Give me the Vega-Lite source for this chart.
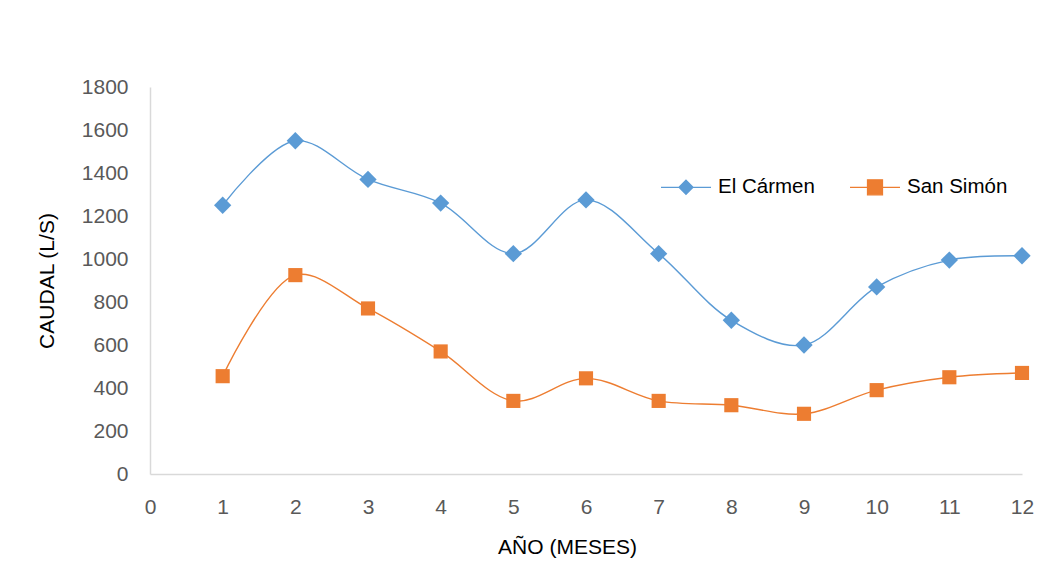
{
  "$schema": "https://vega.github.io/schema/vega-lite/v6.json",
  "width": 872,
  "height": 387,
  "autosize": {"type": "none"},
  "padding": {"left": 150, "top": 87, "right": 27, "bottom": 97},
  "background": "white",
  "config": {
    "view": {"stroke": null},
    "font": "Liberation Sans",
    "axis": {
      "grid": false,
      "ticks": false,
      "domainColor": "#D9D9D9",
      "domainWidth": 1.5,
      "labelFont": "Liberation Sans",
      "labelFontSize": 21,
      "labelColor": "#595959",
      "labelFlush": false,
      "labelBound": false,
      "titleFont": "Liberation Sans",
      "titleFontSize": 21,
      "titleFontWeight": "normal",
      "titleColor": "#000000"
    }
  },
  "data": {
    "values": [
      {"mes": 1, "serie": "El Cármen", "caudal": 1250},
      {"mes": 2, "serie": "El Cármen", "caudal": 1550},
      {"mes": 3, "serie": "El Cármen", "caudal": 1370},
      {"mes": 4, "serie": "El Cármen", "caudal": 1260},
      {"mes": 5, "serie": "El Cármen", "caudal": 1025},
      {"mes": 6, "serie": "El Cármen", "caudal": 1275},
      {"mes": 7, "serie": "El Cármen", "caudal": 1025},
      {"mes": 8, "serie": "El Cármen", "caudal": 715},
      {"mes": 9, "serie": "El Cármen", "caudal": 600},
      {"mes": 10, "serie": "El Cármen", "caudal": 870},
      {"mes": 11, "serie": "El Cármen", "caudal": 995},
      {"mes": 12, "serie": "El Cármen", "caudal": 1015},
      {"mes": 1, "serie": "San Simón", "caudal": 455},
      {"mes": 2, "serie": "San Simón", "caudal": 925},
      {"mes": 3, "serie": "San Simón", "caudal": 770},
      {"mes": 4, "serie": "San Simón", "caudal": 570},
      {"mes": 5, "serie": "San Simón", "caudal": 340},
      {"mes": 6, "serie": "San Simón", "caudal": 445},
      {"mes": 7, "serie": "San Simón", "caudal": 340},
      {"mes": 8, "serie": "San Simón", "caudal": 320},
      {"mes": 9, "serie": "San Simón", "caudal": 280},
      {"mes": 10, "serie": "San Simón", "caudal": 390},
      {"mes": 11, "serie": "San Simón", "caudal": 450},
      {"mes": 12, "serie": "San Simón", "caudal": 470}
    ]
  },
  "encoding": {
    "x": {
      "field": "mes", "type": "quantitative",
      "scale": {"domain": [0, 12], "nice": false},
      "axis": {"values": [0,1,2,3,4,5,6,7,8,9,10,11,12], "title": "AÑO (MESES)", "labelPadding": 22, "titlePadding": 19, "titleX": 417}
    },
    "y": {
      "field": "caudal", "type": "quantitative",
      "scale": {"domain": [0, 1800], "nice": false},
      "axis": {"values": [0,200,400,600,800,1000,1200,1400,1600,1800], "format": "d", "title": "CAUDAL (L/S)", "labelPadding": 22, "titlePadding": 24}
    },
    "color": {
      "field": "serie", "type": "nominal",
      "scale": {"domain": ["El Cármen", "San Simón"], "range": ["#5B9BD5", "#ED7D31"]},
      "legend": {
        "title": null,
        "orient": "none",
        "legendX": 510,
        "legendY": 74,
        "direction": "horizontal",
        "padding": 0,
        "columnPadding": 32,
        "symbolSize": 2500,
        "symbolStrokeWidth": 1.25,
        "labelFont": "Liberation Sans",
        "labelFontSize": 20.5,
        "labelColor": "#000000",
        "labelOffset": 6,
        "encode": {
          "symbols": {
            "update": {
              "shape": {"signal": "datum.value === 'El Cármen' ? 'M-1,0L-0.28,0M0.28,0L1,0M0,-0.28L0.28,0L0,0.28L-0.28,0Z' : 'M-1,0L-0.3,0M0.3,0L1,0M-0.3,-0.3L0.3,-0.3L0.3,0.3L-0.3,0.3Z'"},
              "size": {"value": 2500},
              "fill": {"scale": "color", "field": "value"},
              "stroke": {"scale": "color", "field": "value"},
              "strokeWidth": {"value": 1.25},
              "opacity": {"value": 1}
            }
          }
        }
      }
    }
  },
  "layer": [
    {
      "mark": {"type": "line", "interpolate": "catmull-rom", "strokeWidth": 1.4}
    },
    {
      "transform": [{"filter": "datum.serie === 'El Cármen'"}],
      "mark": {"type": "point", "filled": true, "opacity": 1, "shape": "diamond", "size": 300}
    },
    {
      "transform": [{"filter": "datum.serie === 'San Simón'"}],
      "mark": {"type": "point", "filled": true, "opacity": 1, "shape": "square", "size": 200}
    }
  ]
}
